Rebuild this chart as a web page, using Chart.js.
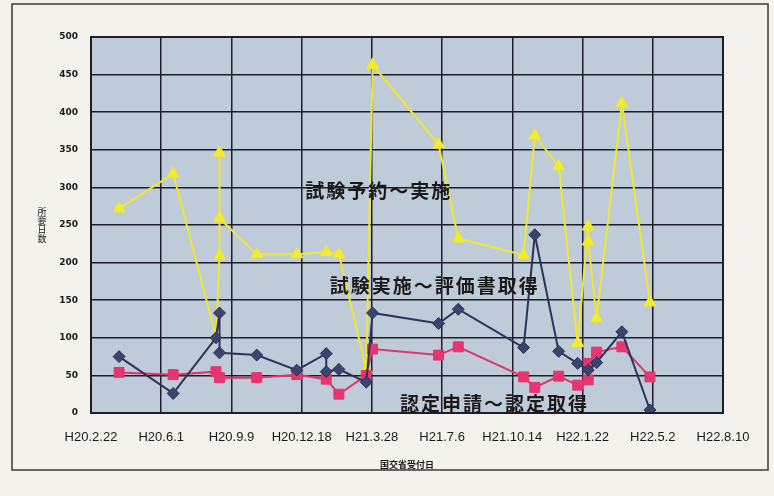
<!DOCTYPE html>
<html>
<head>
<meta charset="utf-8">
<script src="https://cdn.jsdelivr.net/npm/chart.js@4/dist/chart.umd.min.js"></script>
<style>
  html, body { margin: 0; padding: 0; background: #f4f2ec; }
  #wrap { width: 774px; height: 496px; }
</style>
</head>
<body>
<div id="wrap"><canvas id="c" width="774" height="496"></canvas></div>
<script>
// x axis: days elapsed since H20.2.22, one tick every 100 days
const tickLabels = ['H20.2.22', 'H20.6.1', 'H20.9.9', 'H20.12.18', 'H21.3.28',
                    'H21.7.6', 'H21.10.14', 'H22.1.22', 'H22.5.2', 'H22.8.10'];

// 試験予約〜実施
const yoyakuDays   = [40, 117, 178, 183, 183, 183, 236, 293, 335, 353, 392, 401, 495, 523, 616, 632, 666, 693, 708, 708, 720, 756, 796];
const yoyakuValues = [272, 318, 102, 209, 346, 259, 211, 211, 214, 211, 58, 463, 357, 232, 210, 369, 328, 93, 248, 228, 126, 412, 147];

// 試験実施〜評価書取得
const jisshiDays   = [40, 117, 178, 183, 183, 236, 293, 335, 335, 353, 392, 401, 495, 523, 616, 632, 666, 693, 708, 720, 756, 796];
const jisshiValues = [75, 26, 100, 133, 80, 77, 57, 79, 55, 58, 41, 133, 119, 138, 87, 237, 82, 66, 57, 67, 108, 4];

// 認定申請〜認定取得
const ninteiDays   = [40, 117, 178, 183, 236, 293, 335, 353, 392, 401, 495, 523, 616, 632, 666, 693, 708, 708, 720, 756, 796];
const ninteiValues = [54, 51, 55, 47, 47, 51, 45, 25, 50, 85, 77, 88, 48, 34, 49, 37, 44, 66, 81, 88, 48];

const toPoints = (xs, ys) => xs.map((x, i) => ({ x: x, y: ys[i] }));

const cjk = '"Noto Sans CJK JP", "Noto Sans CJK SC", sans-serif';

// series names drawn inside the plot, anchored in data units
const seriesNotes = [
  { text: '試験予約〜実施',       day: 305, value: 295 },
  { text: '試験実施〜評価書取得', day: 340, value: 169 },
  { text: '認定申請〜認定取得',   day: 440, value: 12 }
];

const decor = {
  id: 'decor',
  beforeDraw(chart) {
    const ctx = chart.ctx, a = chart.chartArea;
    ctx.save();
    ctx.fillStyle = '#f4f2ec';
    ctx.fillRect(0, 0, chart.width, chart.height);
    // outer frame
    ctx.strokeStyle = '#3a3a3a';
    ctx.lineWidth = 1.5;
    ctx.strokeRect(12, 4, 756, 466);
    // plot background
    ctx.fillStyle = '#bfcbd8';
    ctx.fillRect(a.left, a.top, a.right - a.left, a.bottom - a.top);
    ctx.restore();
  },
  afterDraw(chart) {
    const ctx = chart.ctx, a = chart.chartArea;
    const xs = chart.scales.x, ys = chart.scales.y;
    ctx.save();
    // plot border
    ctx.strokeStyle = '#1c1e2a';
    ctx.lineWidth = 2;
    ctx.strokeRect(a.left, a.top, a.right - a.left, a.bottom - a.top);

    // series notes
    ctx.fillStyle = '#1a1a1a';
    ctx.font = 'bold 19px ' + cjk;
    ctx.letterSpacing = '2px';
    ctx.textAlign = 'left';
    ctx.textBaseline = 'middle';
    seriesNotes.forEach(n => {
      ctx.fillText(n.text, xs.getPixelForValue(n.day), ys.getPixelForValue(n.value));
    });
    ctx.letterSpacing = '0px';

    // y axis title, stacked vertically
    ctx.font = '9px ' + cjk;
    ctx.textAlign = 'center';
    const yTitle = '所要日数';
    const cy = (a.top + a.bottom) / 2;
    for (let i = 0; i < yTitle.length; i++) {
      ctx.fillText(yTitle[i], a.left - 49, cy - 13 + i * 9);
    }
    // x axis title
    ctx.font = 'bold 9px ' + cjk;
    ctx.fillText('国交省受付日', (a.left + a.right) / 2, 465);
    ctx.restore();
  }
};

new Chart(document.getElementById('c'), {
  type: 'line',
  data: {
    datasets: [
      {
        label: '試験実施〜評価書取得',
        data: toPoints(jisshiDays, jisshiValues),
        borderColor: '#2b3358',
        backgroundColor: '#3a4470',
        borderWidth: 2,
        pointStyle: 'rectRot',
        pointRadius: 6,
        pointBorderWidth: 1,
        tension: 0
      },
      {
        label: '認定申請〜認定取得',
        data: toPoints(ninteiDays, ninteiValues),
        borderColor: '#e0336e',
        backgroundColor: '#e6356f',
        borderWidth: 2,
        pointStyle: 'rect',
        pointRadius: 7,
        pointBorderWidth: 1,
        tension: 0
      },
      {
        label: '試験予約〜実施',
        data: toPoints(yoyakuDays, yoyakuValues),
        borderColor: '#efe832',
        backgroundColor: '#f3ec2c',
        borderWidth: 2,
        pointStyle: 'triangle',
        pointRadius: 7,
        pointBorderWidth: 1,
        tension: 0
      }
    ]
  },
  options: {
    responsive: false,
    animation: false,
    devicePixelRatio: 1,
    layout: { padding: { left: 0, right: 51, top: 37, bottom: 20 } },
    plugins: { legend: { display: false }, tooltip: { enabled: false } },
    scales: {
      x: {
        type: 'linear',
        min: 0,
        max: 900,
        afterFit: s => { s.height = 63; },
        afterBuildTicks: s => { s.ticks = tickLabels.map((t, i) => ({ value: i * 100 })); },
        ticks: {
          autoSkip: false,
          maxRotation: 0,
          padding: 17,
          color: '#1a1a1a',
          font: { family: '"Liberation Sans", Arial, sans-serif', size: 13 },
          callback: v => tickLabels[Math.round(v / 100)]
        },
        grid: { color: '#1c1e2a', lineWidth: 1.5, drawTicks: false },
        border: { display: false }
      },
      y: {
        min: 0,
        max: 500,
        afterFit: s => { s.width = 91; },
        ticks: {
          stepSize: 50,
          padding: 13,
          color: '#1a1a1a',
          font: { family: '"DejaVu Sans", sans-serif', size: 9, weight: 'bold' }
        },
        grid: { color: '#1c1e2a', lineWidth: 1.5, drawTicks: false },
        border: { display: false }
      }
    }
  },
  plugins: [decor]
});
</script>
</body>
</html>
